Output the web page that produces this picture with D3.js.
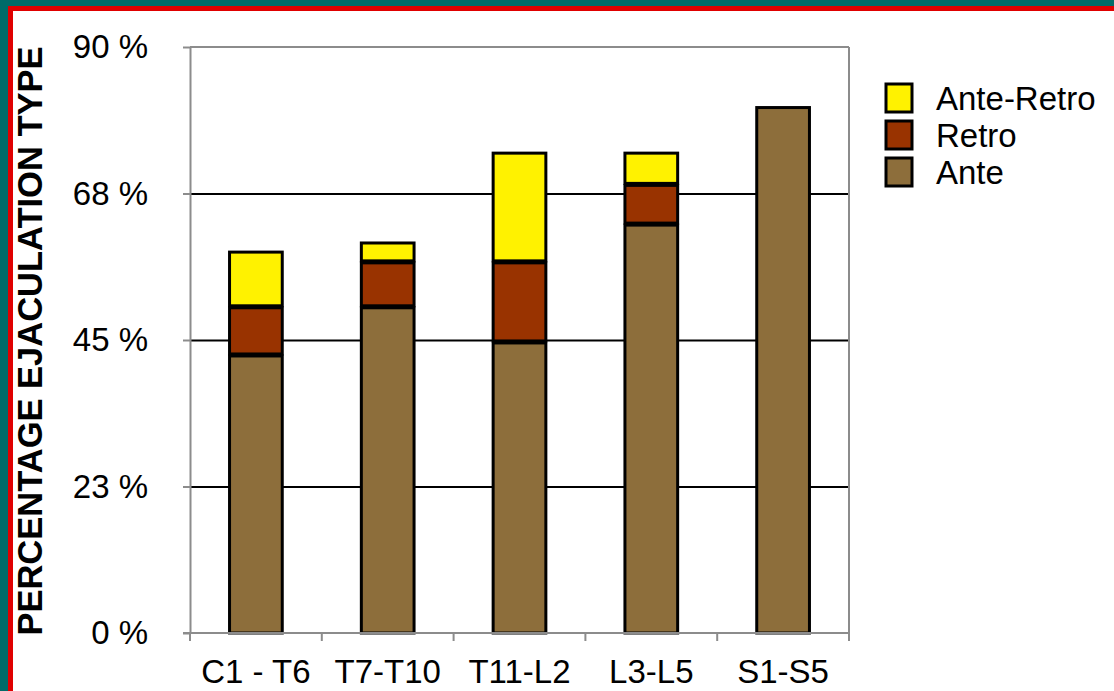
<!DOCTYPE html>
<html>
<head>
<meta charset="utf-8">
<script src="https://cdn.jsdelivr.net/npm/d3@7"></script>
<style>
  html, body { margin: 0; padding: 0; background: #fff; }
  svg { display: block; font-family: "Liberation Sans", Arial, sans-serif; }
</style>
</head>
<body>
<svg id="chart" width="1114" height="691"></svg>
<script>
// Spinal cord injury level groups
const categories = ["C1 - T6", "T7-T10", "T11-L2", "L3-L5", "S1-S5"];
// Percentage of each ejaculation type per group (stacked bottom to top)
const ante      = [42.7, 50.1, 44.7, 62.8, 80.7];
const retro     = [7.4, 6.9, 12.3, 6.1, 0];
const anteRetro = [8.4, 2.9, 16.7, 4.8, 0];

const seriesNames = ["Ante", "Retro", "Ante-Retro"];
const seriesColors = ["#8D6E3B", "#993300", "#FFF200"];

const yTickValues = [0, 22.5, 45, 67.5, 90];
const yTickLabels = ["0 %", "23 %", "45 %", "68 %", "90 %"];

const W = 1114, H = 691;
const plot = { left: 190, right: 849, top: 47, bottom: 633 };

const svg = d3.select("#chart");

// Frame: teal outer band, red inner band, white page
svg.append("rect").attr("width", W).attr("height", H).attr("fill", "#006B69");
svg.append("rect").attr("x", 8).attr("y", 6).attr("width", W).attr("height", H).attr("fill", "#E00000");
svg.append("rect").attr("x", 13).attr("y", 11).attr("width", W).attr("height", H).attr("fill", "#FFFFFF");

const x = d3.scaleBand()
  .domain(categories)
  .range([plot.left, plot.right])
  .paddingInner(0.6)
  .paddingOuter(0.3);

const y = d3.scaleLinear()
  .domain([0, 90])
  .range([plot.bottom, plot.top]);

// Horizontal gridlines
svg.append("g")
  .attr("transform", `translate(${plot.left},0)`)
  .call(d3.axisLeft(y)
    .tickValues(yTickValues.slice(1, -1))
    .tickSize(-(plot.right - plot.left))
    .tickFormat(""))
  .call(g => g.select(".domain").remove())
  .call(g => g.selectAll("line").attr("stroke", "#000").attr("stroke-width", 2));

// Plot frame (top and right edges)
svg.append("line")
  .attr("x1", plot.left).attr("x2", plot.right)
  .attr("y1", plot.top).attr("y2", plot.top)
  .attr("stroke", "#8C8C8C").attr("stroke-width", 2);
svg.append("line")
  .attr("x1", plot.right).attr("x2", plot.right)
  .attr("y1", plot.top).attr("y2", plot.bottom)
  .attr("stroke", "#8C8C8C").attr("stroke-width", 2);

// Stacked bars
const rows = categories.map((c, i) => ({
  cat: c, "Ante": ante[i], "Retro": retro[i], "Ante-Retro": anteRetro[i]
}));
const stacked = d3.stack().keys(seriesNames)(rows);
const totalOf = d => d3.sum(seriesNames, k => d.data[k]);

stacked.forEach((layer, si) => {
  svg.append("g")
    .selectAll("rect")
    .data(layer.filter(d => d[1] - d[0] > 0))
    .join("rect")
    .attr("x", d => x(d.data.cat))
    .attr("width", x.bandwidth())
    .attr("y", d => y(d[1]) + (d[1] === totalOf(d) ? 0 : 1))
    .attr("height", d => {
      const top = y(d[1]) + (d[1] === totalOf(d) ? 0 : 1);
      const bot = y(d[0]) - (d[0] === 0 ? 0 : 1);
      return bot - top;
    })
    .attr("fill", seriesColors[si])
    .attr("stroke", "#000")
    .attr("stroke-width", 3);
});

// Y axis
const yAxis = svg.append("g")
  .attr("transform", `translate(${plot.left},0)`)
  .call(d3.axisLeft(y)
    .tickValues(yTickValues)
    .tickFormat((d, i) => yTickLabels[i])
    .tickSize(7)
    .tickSizeOuter(0)
    .tickPadding(35));
yAxis.select(".domain").attr("stroke", "#8C8C8C").attr("stroke-width", 2);
yAxis.selectAll(".tick line").attr("stroke", "#8C8C8C").attr("stroke-width", 2);
yAxis.selectAll("text")
  .attr("font-size", 33)
  .attr("fill", "#000")
  .attr("font-family", "'Liberation Sans', Arial, sans-serif");

// X axis
const xAxis = svg.append("g")
  .attr("transform", `translate(0,${plot.bottom})`)
  .call(d3.axisBottom(x).tickSize(0).tickPadding(27));
xAxis.select(".domain").remove();
svg.append("line")
  .attr("x1", plot.left - 7).attr("x2", plot.right)
  .attr("y1", plot.bottom).attr("y2", plot.bottom)
  .attr("stroke", "#8C8C8C").attr("stroke-width", 2);
xAxis.selectAll("text")
  .attr("font-size", 33)
  .attr("fill", "#000")
  .attr("font-family", "'Liberation Sans', Arial, sans-serif");

// Category boundary ticks
const step = x.step();
const boundaries = d3.range(categories.length + 1).map(i => x(categories[0]) - x.paddingOuter() * step + i * step);
svg.append("g")
  .selectAll("line")
  .data(boundaries)
  .join("line")
  .attr("x1", d => d).attr("x2", d => d)
  .attr("y1", plot.bottom).attr("y2", plot.bottom + 8)
  .attr("stroke", "#8C8C8C").attr("stroke-width", 2);

// Y axis title
svg.append("text")
  .attr("transform", `translate(42,${(plot.top + plot.bottom) / 2 + 1}) rotate(-90)`)
  .attr("text-anchor", "middle")
  .attr("font-size", 34.5)
  .attr("font-weight", "bold")
  .attr("fill", "#000")
  .text("PERCENTAGE EJACULATION TYPE");

// Legend (top entry is the top stack segment)
const legendOrder = ["Ante-Retro", "Retro", "Ante"];
const legend = svg.append("g").attr("transform", "translate(886,84)");
legendOrder.forEach((name, i) => {
  const g = legend.append("g").attr("transform", `translate(0,${i * 37})`);
  g.append("rect")
    .attr("width", 26).attr("height", 28)
    .attr("fill", seriesColors[seriesNames.indexOf(name)])
    .attr("stroke", "#000").attr("stroke-width", 3);
  g.append("text")
    .attr("x", 50).attr("y", 26)
    .attr("font-size", 33)
    .attr("fill", "#000")
    .text(name);
});
</script>
</body>
</html>
